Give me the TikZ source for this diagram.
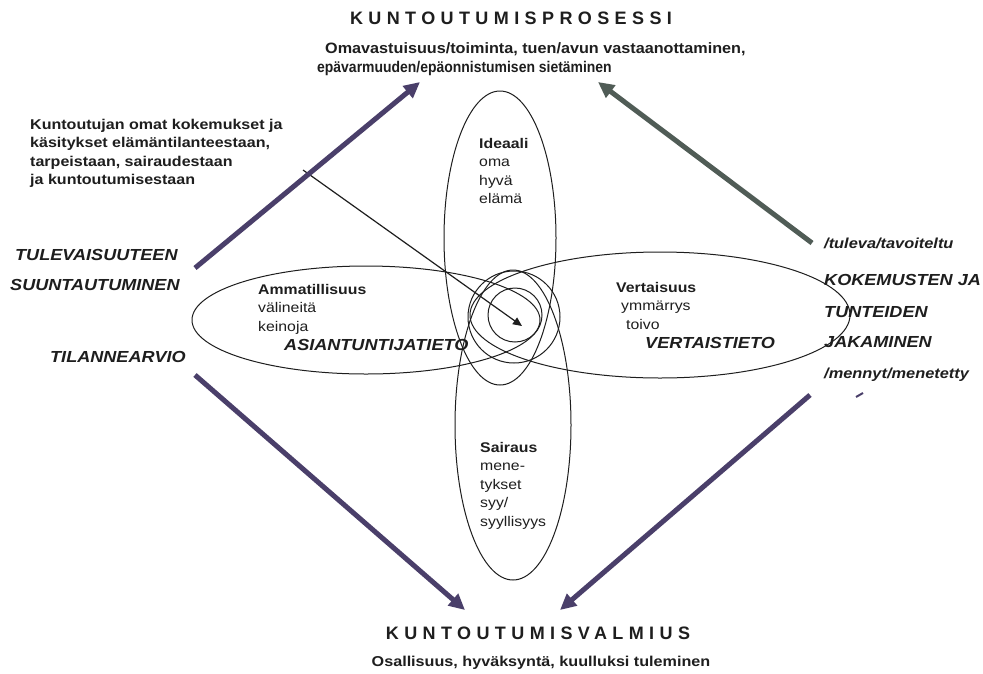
\documentclass[tikz,border=0pt]{standalone}
\usepackage{fontspec}
\setmainfont{Liberation Sans}[FakeStretch=1.13]
\newfontfamily\narrowsans{Liberation Sans}
\usetikzlibrary{arrows.meta}
\definecolor{arrpurple}{HTML}{4A3F6A}
\definecolor{arrgreen}{HTML}{505C56}
\definecolor{ink}{HTML}{1E1E1E}
\tikzset{
  bigarrow/.style={line width=5pt, -{Triangle[length=16pt,width=15pt]}},
  thinarrow/.style={line width=1.2pt, ink, -{Triangle[length=9pt,width=8pt]}},
  oval/.style={line width=1pt, ink},
  titletxt/.style={inner sep=0pt, text=ink, font=\fontsize{18}{20}\selectfont\narrowsans\bfseries\addfontfeature{LetterSpace=30}},
  subtxt/.style={inner sep=0pt, text=ink, align=left, font=\fontsize{14.3}{20}\selectfont\bfseries},
  toptxt/.style={inner sep=0pt, text=ink, align=left, font=\fontsize{15}{19}\selectfont\narrowsans\bfseries},
  blktxt/.style={inner sep=0pt, text=ink, align=left, anchor=north west, font=\fontsize{14.2}{18.5}\selectfont\bfseries},
  captxt/.style={inner sep=0pt, text=ink, anchor=west, font=\fontsize{16}{18}\selectfont\bfseries\itshape},
  smalltxt/.style={inner sep=0pt, text=ink, anchor=west, font=\fontsize{14.5}{16}\selectfont\bfseries\itshape},
  headtxt/.style={inner sep=0pt, text=ink, anchor=north west, align=left, font=\fontsize{14}{18.5}\selectfont},
}
\begin{document}
\begin{tikzpicture}[x=1pt,y=-1pt]
\useasboundingbox (0,0) rectangle (983,673);
\fill[white] (0,0) rectangle (983,673);

% ellipses
\draw[oval] (500,238) ellipse [x radius=56, y radius=147];
\draw[oval] (513,425) ellipse [x radius=58, y radius=155];
\draw[oval] (366,320) ellipse [x radius=174, y radius=54];
\draw[oval] (660,315) ellipse [x radius=190, y radius=63];
\draw[oval] (514,317) circle [radius=46];
\draw[oval] (515,315) circle [radius=27];

% titles
\node[titletxt] (t1) at (511,18) {KUNTOUTUMISPROSESSI};
\node[toptxt, anchor=north west] (s1) at (317,42) {\hspace*{8pt}{\addfontfeature{FakeStretch=1.08}Omavastuisuus/toiminta, tuen/avun vastaanottaminen,}\\{\fontsize{15.5}{19}\selectfont\addfontfeature{FakeStretch=0.9}epävarmuuden/epäonnistumisen sietäminen}};
\node[titletxt] (t2) at (538,633) {KUNTOUTUMISVALMIUS};
\node[subtxt] (s2) at (541,663) {Osallisuus, hyväksyntä, kuulluksi tuleminen};

% left block
\node[blktxt] (lb) at (30,119) {Kuntoutujan omat kokemukset ja\\käsitykset elämäntilanteestaan,\\tarpeistaan, sairaudestaan\\ja kuntoutumisestaan};
\node[captxt] (tul) at (15,255) {TULEVAISUUTEEN};
\node[captxt] (suu) at (10,285) {SUUNTAUTUMINEN};
\node[captxt] (til) at (50,357) {TILANNEARVIO};

% right block
\node[smalltxt] (tav) at (824,243) {/tuleva/tavoiteltu};
\node[captxt] (kok) at (824,280) {KOKEMUSTEN JA};
\node[captxt] (tun) at (824,312) {TUNTEIDEN};
\node[captxt] (jak) at (824,342) {JAKAMINEN};
\node[smalltxt] (men) at (824,375) {/mennyt/menetetty};

% ellipse contents
\node[headtxt] (ide) at (479,138) {\textbf{Ideaali}\\oma\\hyvä\\elämä};
\node[headtxt] (amm) at (258,284) {\textbf{Ammatillisuus}\\välineitä\\keinoja};
\node[captxt] (asi) at (284,345) {ASIANTUNTIJATIETO};
\node[headtxt] (ver) at (616,282) {\textbf{Vertaisuus}\\\hspace*{5pt}ymmärrys\\\hspace*{10pt}toivo};
\node[captxt] (vti) at (645,343) {VERTAISTIETO};
\node[headtxt] (sai) at (480,442) {\textbf{Sairaus}\\mene-\\tykset\\syy/\\syyllisyys};

% arrows
\coordinate (c) at (522,326);
\coordinate (a0) at (303,170);
\draw[thinarrow] (a0) -- (c);

\coordinate (lu0) at (195,268); \coordinate (lu1) at (420,82);
\coordinate (ru0) at (812,243); \coordinate (ru1) at (598,82);
\coordinate (ld0) at (195,375); \coordinate (ld1) at (465,610);
\coordinate (rd0) at (810,395); \coordinate (rd1) at (560,610);
\draw[bigarrow, arrpurple] (lu0) -- (lu1);
\draw[bigarrow, arrgreen] (ru0) -- (ru1);
\draw[bigarrow, arrpurple] (ld0) -- (ld1);
\draw[bigarrow, arrpurple] (rd0) -- (rd1);

% stray mark
\coordinate (m0) at (856,397); \coordinate (m1) at (863,393);
\draw[line width=2pt, arrpurple] (m0) -- (m1);
\end{tikzpicture}
\end{document}
